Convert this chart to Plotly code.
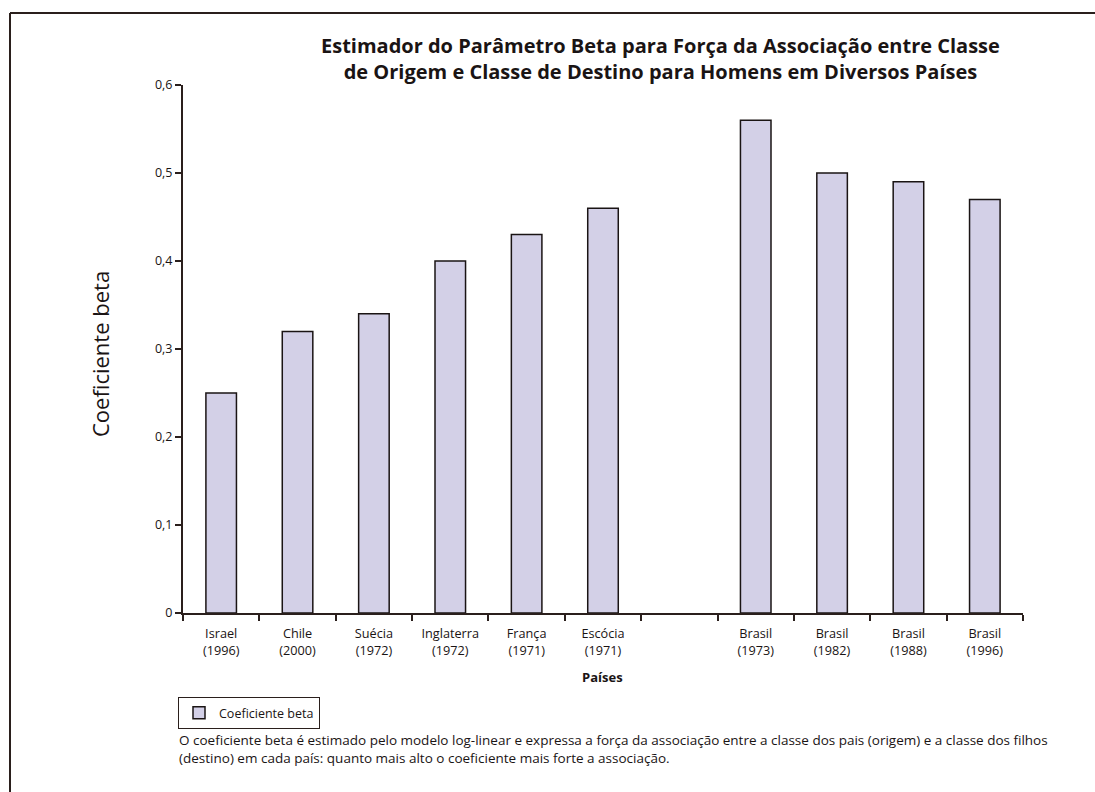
import plotly.graph_objects as go

categories = ["Israel<br>(1996)", "Chile<br>(2000)", "Suécia<br>(1972)", "Inglaterra<br>(1972)",
              "França<br>(1971)", "Escócia<br>(1971)", " ", "Brasil<br>(1973)", "Brasil<br>(1982)",
              "Brasil<br>(1988)", "Brasil<br>(1996)"]
values = [0.25, 0.32, 0.34, 0.40, 0.43, 0.46, None, 0.56, 0.50, 0.49, 0.47]
ytick_vals = [0, 0.1, 0.2, 0.3, 0.4, 0.5, 0.6]
ytick_text = ["0", "0,1", "0,2", "0,3", "0,4", "0,5", "0,6"]

W, H = 1095, 792
L, R, T, B = 183, 72, 85, 179
PW, PH = W - L - R, H - T - B

def px(x):
    return (x - L) / PW

def py(y):
    return (H - B - y) / PH

axis_col = "#2a1f1c"
font_main = "'Open Sans', sans-serif"

fig = go.Figure()
fig.add_trace(go.Bar(
    x=categories, y=values, name="Coeficiente beta",
    marker=dict(color="#d3d0e7", line=dict(color="#1a1414", width=1.5)),
    width=0.4,
))

fig.update_layout(
    width=W, height=H,
    margin=dict(l=L, r=R, t=T, b=B, autoexpand=False),
    paper_bgcolor="white", plot_bgcolor="white",
    font=dict(family=font_main, color="#1a1414", size=12),
    showlegend=True,
    legend=dict(x=px(178), y=py(697), xanchor="left", yanchor="top",
                bordercolor=axis_col, borderwidth=1, bgcolor="white",
                font=dict(size=12.5, family=font_main),
                itemwidth=30, tracegroupgap=0),
    xaxis=dict(type="category", showline=True, linecolor=axis_col, linewidth=2,
               ticks="outside", tickson="boundaries", ticklen=6, tickwidth=2,
               tickcolor=axis_col, showgrid=False, zeroline=False,
               ticklabelstandoff=8,
               tickfont=dict(size=12.7, family=font_main)),
    yaxis=dict(range=[0, 0.6], showline=True, linecolor=axis_col, linewidth=2,
               ticks="outside", ticklen=6, tickwidth=2, tickcolor=axis_col,
               tickvals=ytick_vals, ticktext=ytick_text, showgrid=False,
               zeroline=False, tickfont=dict(size=12.5, family=font_main)),
    bargap=0.6,
)

shapes = [
    dict(type="line", xref="paper", yref="paper", x0=px(10), x1=px(1095), y0=py(13), y1=py(13),
         line=dict(color=axis_col, width=2)),
    dict(type="line", xref="paper", yref="paper", x0=px(10), x1=px(10), y0=py(13), y1=py(792),
         line=dict(color=axis_col, width=2)),
]
fig.update_layout(shapes=shapes)

annotations = [
    dict(text="<b>Estimador do Parâmetro Beta para Força da Associação entre Classe<br>"
              "de Origem e Classe de Destino para Homens em Diversos Países</b>",
         xref="paper", yref="paper", x=px(660), y=py(58), xanchor="center", yanchor="middle",
         showarrow=False, align="center", font=dict(size=20, family=font_main)),
    dict(text="Coeficiente beta", xref="paper", yref="paper", x=px(100), y=py(354),
         xanchor="center", yanchor="middle", textangle=-90, showarrow=False,
         font=dict(size=22, family=font_main)),
    dict(text="<b>Países</b>", xref="paper", yref="paper", x=px(602), y=py(677),
         xanchor="center", yanchor="middle", showarrow=False, font=dict(size=13, family=font_main)),
    dict(text="O coeficiente beta é estimado pelo modelo log-linear e expressa a força da associação entre a classe dos pais (origem) e a classe dos filhos<br>"
              "(destino) em cada país: quanto mais alto o coeficiente mais forte a associação.",
         xref="paper", yref="paper", x=px(177), y=py(749), xanchor="left", yanchor="middle",
         showarrow=False, align="left", font=dict(size=13.5, family=font_main)),
]
fig.update_layout(annotations=annotations)

fig.write_html("out.html")
